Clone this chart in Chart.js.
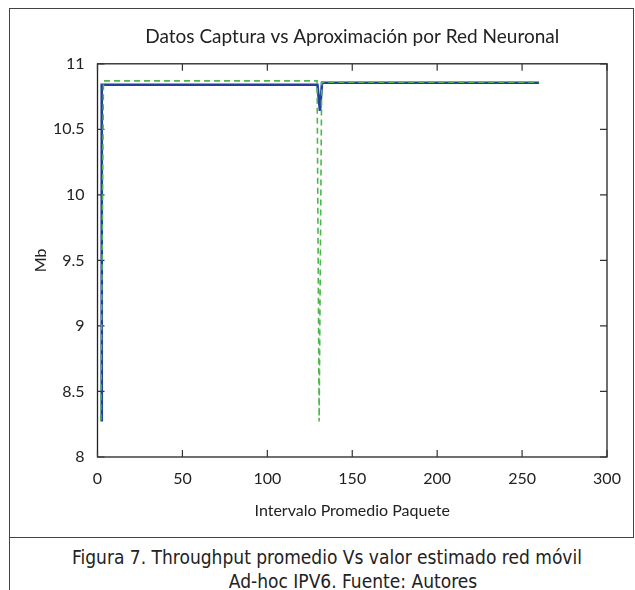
<!DOCTYPE html>
<html>
<head>
<meta charset="utf-8">
<script src="https://cdn.jsdelivr.net/npm/chart.js@4/dist/chart.umd.min.js"></script>
<style>
  html, body { margin: 0; padding: 0; background: #fff; }
  #wrap { position: relative; width: 635px; height: 590px; background: #fff; overflow: hidden; }
  #c { position: absolute; left: 0; top: 0; }
  #frame { position: absolute; left: 9px; top: 8px; width: 623px; height: 528px; border: 1px solid #444; box-sizing: content-box; }
  #leftline { position: absolute; left: 9px; top: 537px; width: 0; height: 53px; border-left: 1px solid #444; }
  .cap { position: absolute; font-family: "DejaVu Sans Condensed", "DejaVu Sans", sans-serif; font-size: 19px; color: #222; white-space: nowrap; transform: translateX(-50%); line-height: 1; }
</style>
</head>
<body>
<div id="wrap">
  <div id="frame"></div>
  <div id="leftline"></div>
  <canvas id="c" width="635" height="537"></canvas>
  <div class="cap" id="cap1" style="left:327px; top:548px;">Figura 7. Throughput promedio Vs valor estimado red móvil</div>
  <div class="cap" id="cap2" style="left:353px; top:572px;">Ad-hoc IPV6. Fuente: Autores</div>
</div>
<script>
// ---- data ----
const chartTitle = "Datos Captura vs Aproximación por Red Neuronal";
const xTitle = "Intervalo Promedio Paquete";
const yTitle = "Mb";
const xTicks = [0, 50, 100, 150, 200, 250, 300];
const yTicks = [8, 8.5, 9, 9.5, 10, 10.5, 11];

// Neural-network approximation (solid blue)
const netX = [2.5, 2.5, 129.5, 131, 132.2, 260];
const netY = [8.27, 10.84, 10.84, 10.64, 10.855, 10.855];
// Captured data (dashed green)
const capX = [2, 3.5, 129.3, 130.5, 132, 260];
const capY = [8.28, 10.87, 10.87, 8.27, 10.86, 10.86];

const toPts = (xs, ys) => xs.map((x, i) => ({x: x, y: ys[i]}));

const tickFont = {family: "Lato", size: 16};
const frameBox = {
  id: 'frameBox',
  beforeDatasetsDraw(chart) {
    const {ctx, chartArea: a, scales} = chart;
    ctx.save();
    ctx.strokeStyle = '#222';
    ctx.lineWidth = 1.3;
    ctx.strokeRect(a.left, a.top, a.right - a.left, a.bottom - a.top);
    ctx.lineWidth = 1.2;
    ctx.strokeStyle = '#333';
    const L = 7;
    ctx.beginPath();
    xTicks.forEach(v => {
      const px = scales.x.getPixelForValue(v);
      ctx.moveTo(px, a.bottom); ctx.lineTo(px, a.bottom - L);
      ctx.moveTo(px, a.top); ctx.lineTo(px, a.top + L);
    });
    yTicks.forEach(v => {
      const py = scales.y.getPixelForValue(v);
      ctx.moveTo(a.left, py); ctx.lineTo(a.left + L, py);
      ctx.moveTo(a.right, py); ctx.lineTo(a.right - L, py);
    });
    ctx.stroke();
    ctx.restore();
  }
};

new Chart(document.getElementById('c'), {
  type: 'line',
  data: {
    datasets: [
      {
        label: 'Captura',
        data: toPts(capX, capY),
        borderColor: '#4cb84c',
        borderWidth: 1.6,
        borderDash: [6, 4],
        pointRadius: 0,
        tension: 0,
        fill: false,
        order: 0
      },
      {
        label: 'Red Neuronal',
        data: toPts(netX, netY),
        borderColor: '#233f9c',
        borderWidth: 2.6,
        pointRadius: 0,
        tension: 0,
        fill: false,
        order: 1
      }
    ]
  },
  options: {
    responsive: false,
    animation: false,
    devicePixelRatio: 1,
    layout: {padding: {left: 28, right: 28, top: 0, bottom: 0}},
    plugins: {
      legend: {display: false},
      tooltip: {enabled: false},
      title: {
        display: true,
        fullSize: false,
        text: chartTitle,
        color: '#222',
        font: {family: "Lato", size: 19, weight: 'normal'},
        padding: {top: 25, bottom: 16}
      }
    },
    scales: {
      x: {
        type: 'linear',
        min: 0, max: 300,
        afterBuildTicks(s) { s.ticks = xTicks.map(v => ({value: v})); },
        ticks: {font: tickFont, color: '#222', padding: 4, maxRotation: 0,
                callback: v => String(v)},
        grid: {display: false},
        border: {display: false},
        title: {display: true, text: xTitle, color: '#222', font: tickFont, padding: {top: 0, bottom: 17}},
        afterFit(s) { s.height = 80; s.paddingLeft = 0; s.paddingRight = 0; }
      },
      y: {
        type: 'linear',
        min: 8, max: 11,
        afterBuildTicks(s) { s.ticks = yTicks.map(v => ({value: v})); },
        ticks: {font: tickFont, color: '#222', padding: 5,
                callback: v => String(v)},
        grid: {display: false},
        border: {display: false},
        title: {display: true, text: yTitle, color: '#222', font: tickFont, padding: {top: 3, bottom: 0}},
        afterFit(s) { s.width = 69.5; s.paddingTop = 0; s.paddingBottom = 0; }
      }
    }
  },
  plugins: [frameBox]
});
</script>
</body>
</html>
